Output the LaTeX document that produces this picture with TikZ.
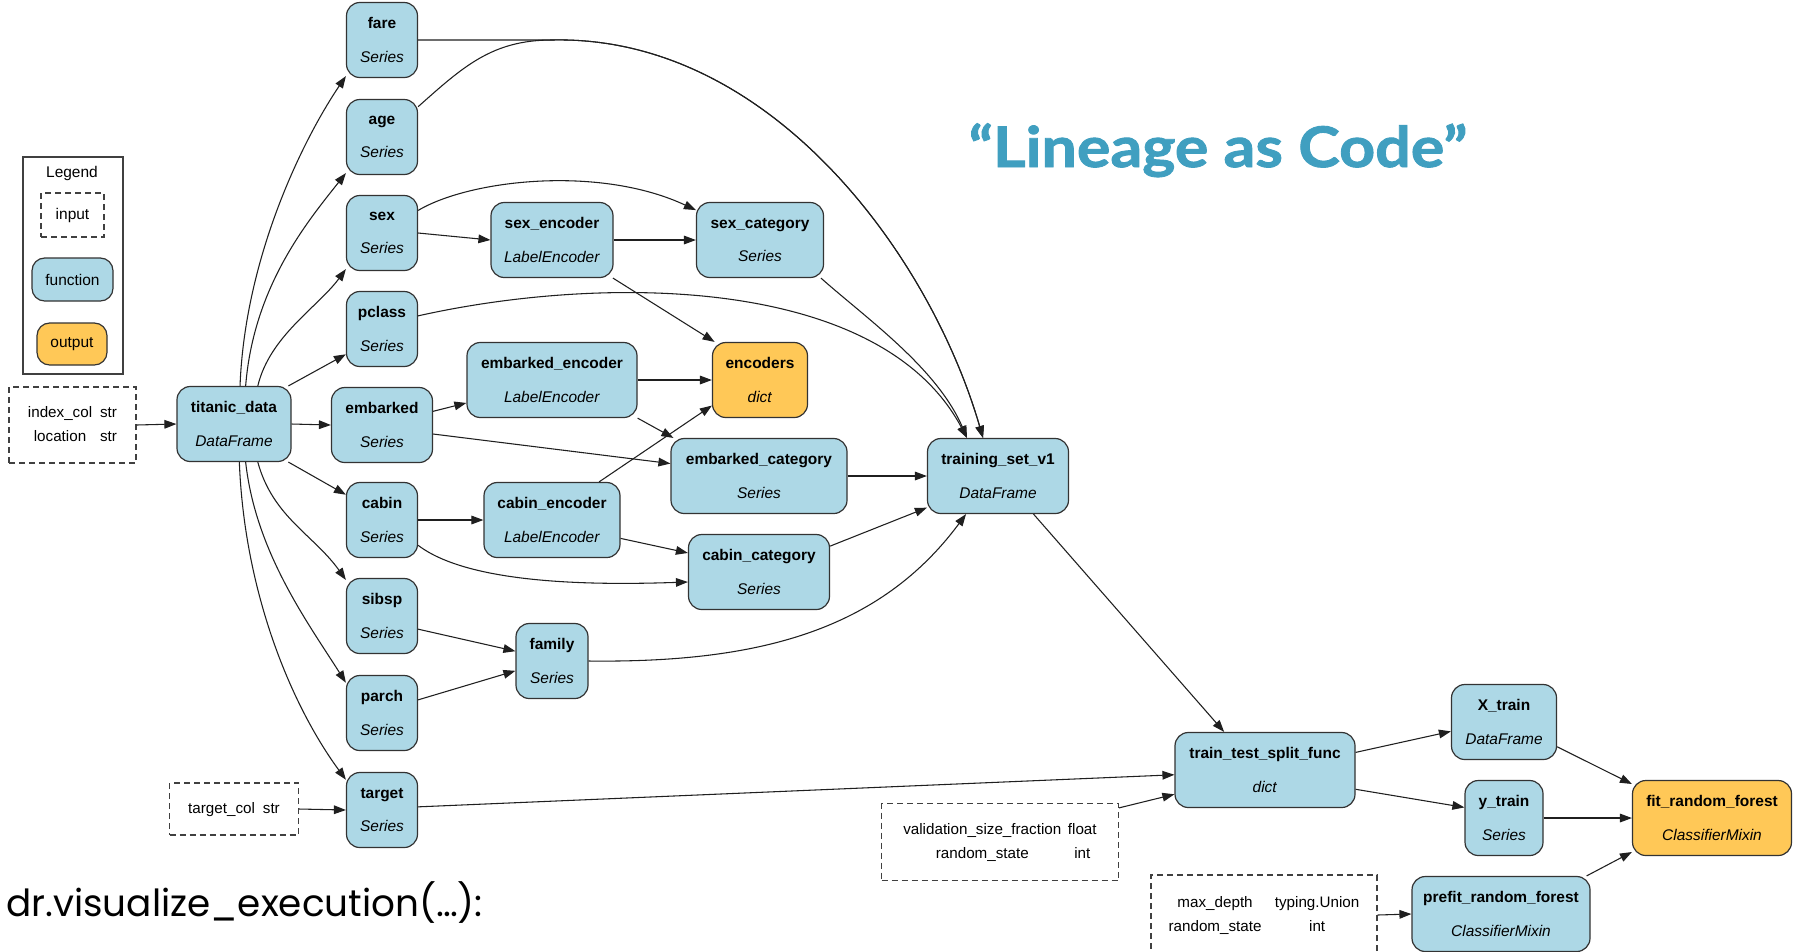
\documentclass[tikz,border=0pt]{standalone}
\usepackage{fontspec}
\setmainfont{Liberation Sans}
\newfontfamily\captionfont{Poppins}
\newfontfamily\titlefont{Lato}[BoldFeatures={FakeBold=1.6, FakeStretch=1.12}]
\usetikzlibrary{arrows.meta,calc}

\definecolor{fnfill}{HTML}{ADD8E6}
\definecolor{outfill}{HTML}{FFC857}
\definecolor{titleblue}{HTML}{409FC0}

% two-line label of a function node: name in bold, return type in italics
\newcommand\fnlabel[2]{\textbf{#1}\\[11pt]\textit{#2}}

\tikzset{
  fn/.style={draw=black!80, fill=fnfill, rounded corners=10pt, line width=0.9pt,
    align=center, font=\fontsize{11.6}{13.9}\selectfont, inner sep=0pt,
    minimum height=75*0.75pt},
  outfn/.style={fn, fill=outfill},
  wd/.style={minimum width=#1*0.75pt},
  ht/.style={minimum height=#1*0.75pt},
  inbox/.style={draw=black!75, dash pattern=on 4.5pt off 3pt, line width=0.8pt,
    font=\fontsize{11.4}{18}\selectfont, inner sep=0pt},
  conn/.style={draw=black!88, line width=0.8pt, -{Triangle[length=9pt,width=6.5pt]}},
}

\begin{document}
\begin{tikzpicture}[x=0.75pt, y=-0.75pt]
\useasboundingbox (0,0) rectangle (1798,951);
\fill[white] (0,0) rectangle (1798,951);

% ---------- legend ----------
\node[draw=black!75, line width=0.8pt, wd=100, ht=217, inner sep=0pt] (legend) at (73,265.5) {};
\node[font=\fontsize{11.6}{13.9}\selectfont] (legendtitle) at (72,173) {Legend};
\node[inbox, wd=63, ht=44, font=\fontsize{11.6}{13.9}\selectfont] (leginput) at (72.5,215) {input};
\node[fn, wd=81, ht=43, rounded corners=9.5pt] (legfunc) at (72.5,279.5) {function};
\node[outfn, wd=70, ht=42, rounded corners=9.5pt] (legout) at (72,344) {output};

% ---------- inputs ----------
\node[inbox, wd=127, ht=76] (index) at (72.5,425) {%
  \begin{tabular}{@{}c@{\hspace{6pt}}c@{}}index\_col & str\\ location & str\end{tabular}};
\node[inbox, wd=129, ht=52] (tcol) at (234,809) {%
  \begin{tabular}{@{}c@{\hspace{6pt}}c@{}}target\_col & str\end{tabular}};
\node[inbox, wd=237, ht=77] (valid) at (1000,842) {%
  \begin{tabular}{@{}c@{\hspace{5pt}}c@{}}validation\_size\_fraction & float\\ random\_state & int\end{tabular}};
\node[inbox, wd=226, ht=80] (maxd) at (1264,915) {%
  \begin{tabular}{@{}c@{\hspace{10pt}}c@{}}max\_depth & typing.Union\\ random\_state & int\end{tabular}};

% ---------- functions ----------
\node[fn, wd=114] (td) at (234,424) {\fnlabel{titanic\_data}{DataFrame}};
\node[fn, wd=71] (fare) at (382,40) {\fnlabel{fare}{Series}};
\node[fn, wd=71] (age) at (382,137) {\fnlabel{age}{Series}};
\node[fn, wd=71] (sex) at (382,233) {\fnlabel{sex}{Series}};
\node[fn, wd=71] (pclass) at (382,329) {\fnlabel{pclass}{Series}};
\node[fn, wd=101] (embarked) at (382,425) {\fnlabel{embarked}{Series}};
\node[fn, wd=71] (cabin) at (382,520) {\fnlabel{cabin}{Series}};
\node[fn, wd=71] (sibsp) at (382,616) {\fnlabel{sibsp}{Series}};
\node[fn, wd=71] (parch) at (382,713) {\fnlabel{parch}{Series}};
\node[fn, wd=71] (target) at (382,810) {\fnlabel{target}{Series}};

\node[fn, wd=122] (sexenc) at (552,240) {\fnlabel{sex\_encoder}{LabelEncoder}};
\node[fn, wd=127] (sexcat) at (760,240) {\fnlabel{sex\_category}{Series}};
\node[fn, wd=170] (embenc) at (552,380) {\fnlabel{embarked\_encoder}{LabelEncoder}};
\node[outfn, wd=95] (encoders) at (760,380) {\fnlabel{encoders}{dict}};
\node[fn, wd=176] (embcat) at (759,476) {\fnlabel{embarked\_category}{Series}};
\node[fn, wd=136] (cabenc) at (552,520) {\fnlabel{cabin\_encoder}{LabelEncoder}};
\node[fn, wd=141] (cabcat) at (759,572) {\fnlabel{cabin\_category}{Series}};
\node[fn, wd=72] (family) at (552,661) {\fnlabel{family}{Series}};
\node[fn, wd=141] (train) at (998,476) {\fnlabel{training\_set\_v1}{DataFrame}};

\node[fn, wd=180] (tts) at (1265,770) {\fnlabel{train\_test\_split\_func}{dict}};
\node[fn, wd=105] (xtrain) at (1504,722) {\fnlabel{X\_train}{DataFrame}};
\node[fn, wd=78] (ytrain) at (1504,818) {\fnlabel{y\_train}{Series}};
\node[outfn, wd=159] (fit) at (1712,818) {\fnlabel{fit\_random\_forest}{ClassifierMixin}};
\node[fn, wd=178] (prefit) at (1501,914) {\fnlabel{prefit\_random\_forest}{ClassifierMixin}};

% ---------- edges ----------
\draw[conn] (index.east) -- (td.west);
\draw[conn] (tcol.east) -- (target.west);

\draw[conn] (td.81) .. controls +(5,-130) and +(-42,62) .. (fare.225);
\draw[conn] (td.73) .. controls +(8,-100) and +(-38,48) .. (age.225);
\draw[conn] (td.58) .. controls +(12,-50) and +(-28,38) .. (sex.225);
\draw[conn] (td.35) -- (pclass.215);
\draw[conn] (td.east) -- (embarked.west);
\draw[conn] (td.-35) -- (cabin.145);
\draw[conn] (td.-58) .. controls +(15,55) and +(-32,-45) .. (sibsp.135);
\draw[conn] (td.-73) .. controls +(10,90) and +(-38,-60) .. (parch.140);
\draw[conn] (td.-82) .. controls +(5,130) and +(-55,-75) .. (target.140);

% fare and age share one route into the training set
\coordinate (join) at (552,40);
\draw[conn] (fare.east) -- (join) .. controls (770,35) and (930,255) .. ($(train.north)+(-15,0)$);
\draw[conn] (age.40) .. controls +(45,-40) and +(-60,0) .. (join)
  .. controls (770,35) and (930,255) .. ($(train.north)+(-15,0)$);

\draw[conn] (sex.32) .. controls +(52,-31) and +(-96,-45) .. (sexcat.155);
\draw[conn] (sex.east) -- (sexenc.west);
\draw[conn] (sexenc.east) -- (sexcat.west);
\draw[conn] (sexenc.-32) -- (encoders.140);
\draw[conn] (sexcat.-32) .. controls +(45,40) and +(-30,-70) .. ($(train.north)+(-31,0)$);
\draw[conn] (pclass.20) .. controls +(182.5,-41) and +(-87,-163.5) .. ($(train.north)+(-31,0)$);

\draw[conn] (embarked.15) -- (embenc.195);
\draw[conn] (embarked.-10) -- (embcat.172);
\draw[conn] (embenc.east) -- (encoders.west);
\draw[conn] (embenc.-24) -- (embcat.156);

\draw[conn] (cabin.east) -- (cabenc.west);
\draw[conn] (cabin.-35) .. controls +(52.5,40) and +(-88.5,3) .. (cabcat.188);
\draw[conn] (cabenc.-15) -- (cabcat.165);
\draw[conn] (cabenc.39) -- (encoders.208);

\draw[conn] (sibsp.-20) -- (family.165);
\draw[conn] (parch.20) -- (family.195);
\draw[conn] (family.east) .. controls +(171,2) and +(-86,116) .. (train.230);

\draw[conn] (embcat.east) -- (train.west);
\draw[conn] (cabcat.20) -- (train.204);

\draw[conn] (train.-47) -- (tts.137);
\draw[conn] (target.5) -- (tts.183);
\draw[conn] (valid.16) -- (tts.195);
\draw[conn] (tts.11) -- (xtrain.190);
\draw[conn] (tts.-12) -- (ytrain.165);
\draw[conn] (xtrain.-25) -- (fit.157);
\draw[conn] (ytrain.east) -- (fit.west);
\draw[conn] (prefit.24) -- (fit.203);
\draw[conn] (maxd.east) -- (prefit.west);

% ---------- headings ----------
\node[anchor=base, text=titleblue, font=\titlefont\bfseries\fontsize{42}{48}\selectfont, inner sep=0pt]
  (title) at (1218,167) {“Lineage as Code”};
\node[anchor=base west, font=\captionfont\fontsize{28}{34}\selectfont, inner sep=0pt]
  (caption) at (6,916) {dr.visualize\_execution(…):};
\end{tikzpicture}
\end{document}
